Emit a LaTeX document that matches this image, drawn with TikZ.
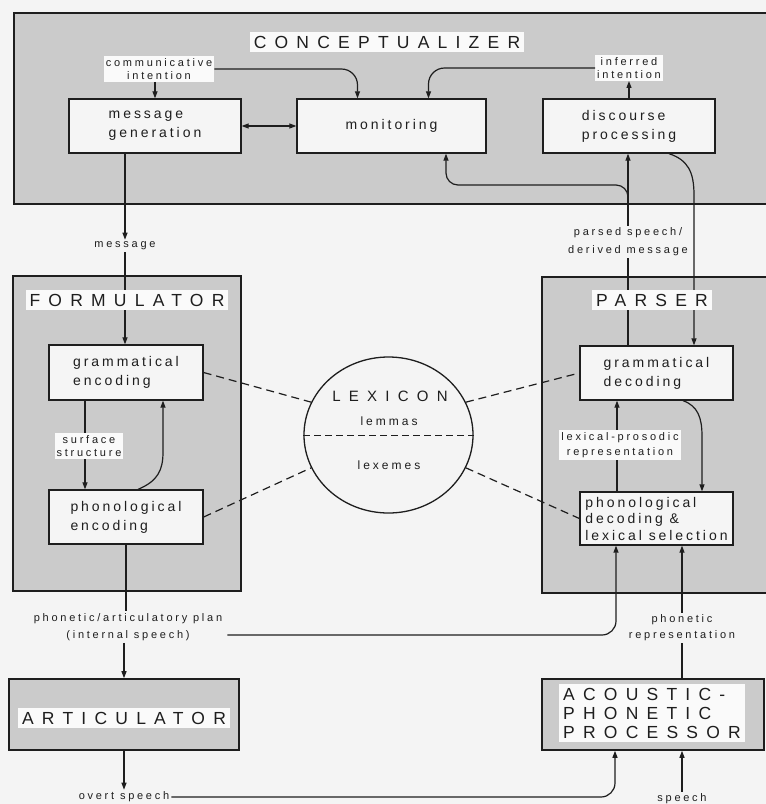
\documentclass[tikz,border=0pt]{standalone}
\usepackage{fontspec}
\setmainfont{Liberation Sans}
\newfontfamily\titlefont[LetterSpace=47]{Liberation Sans}
\newfontfamily\boxfont[LetterSpace=21]{Liberation Sans}
\newfontfamily\labelfont[LetterSpace=25]{Liberation Sans}
\newfontfamily\lexfont[LetterSpace=55]{Liberation Sans}
\usetikzlibrary{arrows.meta,calc,shapes.geometric}
\definecolor{pagebg}{HTML}{F4F4F4}
\definecolor{modfill}{HTML}{CBCBCB}
\definecolor{boxfill}{HTML}{F5F5F5}
\definecolor{titlebg}{HTML}{FAFAFA}
\definecolor{linec}{HTML}{1E1E1E}
\begin{document}
\begin{tikzpicture}[x=1pt,y=-1pt,
  >={Triangle[length=7pt,width=5pt]},
  module/.style={draw=linec, line width=1.6pt, fill=modfill},
  proc/.style={draw=linec, line width=1.3pt, fill=boxfill, inner sep=0pt,
    align=left, text=linec, font=\boxfont\fontsize{14}{19}\selectfont},
  title/.style={fill=titlebg, inner xsep=4pt, inner ysep=4pt, text=linec,
    font=\titlefont\fontsize{17.5}{19}\selectfont},
  lbl/.style={inner sep=2pt, align=center, text=linec,
    font=\labelfont\fontsize{11}{13.5}\selectfont},
  conn/.style={draw=linec, line width=1.2pt},
  lexdash/.style={draw=linec, line width=1.2pt, dash pattern=on 8pt off 5pt}
]
\useasboundingbox (0,0) rectangle (766,804);
\clip (0,0) rectangle (766,804);
\fill[pagebg] (0,0) rectangle (766,804);

% processing components (shaded frames)
\draw[module] (14,13) rectangle (800,204);
\draw[module] (13,276) rectangle (241,591);
\draw[module] (542,277) rectangle (800,593);
\node[module, minimum width=230pt, minimum height=71pt, inner sep=0pt] (artic) at (124,714.5) {};
\node[module, minimum width=222pt, minimum height=71pt, inner sep=0pt] (acoustic) at (653,714.5) {};

% conceptualizer
\node[proc, minimum width=172pt, minimum height=54pt] (msggen) at (155,126) {message\\generation};
\node[proc, minimum width=189pt, minimum height=54pt] (monitor) at (391.5,126) {monitoring};
\node[proc, minimum width=172pt, minimum height=54pt] (discourse) at (629,126) {discourse\\processing};
\node[lbl, fill=titlebg] (comm) at (159,69) {communicative\\intention};
\node[lbl, fill=titlebg] (inferred) at (629,68) {inferred\\intention};

% formulator
\node[proc, minimum width=154pt, minimum height=55pt] (gramenc) at (126,372.5) {grammatical\\encoding};
\node[proc, minimum width=154pt, minimum height=54pt] (phonenc) at (126,517) {phonological\\encoding};

% parser
\node[proc, minimum width=153pt, minimum height=54pt] (gramdec) at (656.5,373) {grammatical\\decoding};
\node[proc, minimum width=153pt, minimum height=53pt,
  font=\boxfont\fontsize{14}{16.5}\selectfont] (phondec) at (656.5,518.5)
  {phonological\\decoding \&\\lexical selection};

% lexicon
\node[draw=linec, line width=1.3pt, ellipse, fill=pagebg, minimum width=169pt,
  minimum height=156pt, inner sep=0pt] (lex) at (388.5,435) {};
\draw[draw=linec, line width=0.9pt, dash pattern=on 7pt off 4pt] (lex.west) -- (lex.east);
\node[text=linec, font=\lexfont\fontsize{15}{17}\selectfont] (lexname) at (390,396) {LEXICON};
\node[lbl, font=\labelfont\fontsize{12}{14}\selectfont] (lemmas) at (389,421) {lemmas};
\node[lbl, font=\labelfont\fontsize{12}{14}\selectfont] (lexemes) at (389,465) {lexemes};

% labels between components
\node[lbl, fill=pagebg] (msglabel) at (125,246) {message};
\node[lbl, fill=pagebg, font=\labelfont\fontsize{11}{18}\selectfont] (parsed) at (628,242) {parsed speech/\\derived message};
\node[lbl, fill=pagebg, font=\labelfont\fontsize{11}{17}\selectfont] (plan) at (128,627) {phonetic/articulatory plan\\(internal speech)};
\node[lbl, fill=pagebg, font=\labelfont\fontsize{11}{16}\selectfont] (phonrep) at (682,628) {phonetic\\representation};
\node[lbl, fill=pagebg] (overt) at (124,797) {overt speech};
\node[lbl, fill=pagebg] (speech) at (682,799) {speech};

% connectors inside the conceptualizer
\draw[conn,->] (comm.south -| msggen.north) -- (msggen.north);
\draw[conn,->,rounded corners=16] (comm.east) -- ($(comm.east -| monitor.north)+(-34,0)$) -- ($(monitor.north)+(-34,0)$);
\draw[conn,->,rounded corners=16] (inferred.west) -- ($(inferred.west -| monitor.north)+(37,0)$) -- ($(monitor.north)+(37,0)$);
\draw[conn,->] (discourse.north) -- (inferred.south);
\draw[conn,<->] (msggen.east) -- (monitor.west);

% message to the formulator
\draw[conn,->] ($(msggen.south)+(-30,0)$) -- (msglabel.north);
\draw[conn,->] (msglabel.south) -- (msglabel.south |- gramenc.north);

% formulator internals
\draw[conn,->] ($(gramenc.south)+(-41,0)$) -- ($(phonenc.north)+(-41,0)$);
\draw[conn,->] ($(phonenc.north)+(12,0)$) .. controls (158,481) and (163,470) .. (163,452) -- ($(gramenc.south)+(37,0)$);

% parser to the conceptualizer
\coordinate (fork) at (628,201);
\draw[conn] (parsed.south) -- (parsed.south |- gramdec.north);
\draw[conn,->] (parsed.north) -- (parsed.north |- discourse.south);
\draw[conn,->,rounded corners=12] (fork) -- (628,185) -- (446,185) -- ($(monitor.south)+(54.5,0)$);
\draw[conn,->] ($(discourse.south)+(40,0)$) .. controls (688,160) and (694,172) .. (694,195) -- ($(gramdec.north)+(37.5,0)$);

% parser internals
\draw[conn,->] ($(phondec.north)+(-39.5,0)$) -- ($(gramdec.south)+(-39.5,0)$);
\draw[conn,->] ($(gramdec.south)+(26.5,0)$) .. controls (698,406) and (702,418) .. (702,436) -- ($(phondec.north)+(45.5,0)$);

% lexical access
\draw[lexdash] (gramenc.east) -- (lex.157);
\draw[lexdash] (phonenc.east) -- (lex.203);
\draw[lexdash] (lex.23) -- (gramdec.west);
\draw[lexdash] (lex.-23) -- (phondec.west);

% speech output and input
\draw[conn] (phonenc.south) -- (phonenc.south |- plan.north);
\draw[conn,->] (plan.south -| artic.north) -- (artic.north);
\coordinate (planend) at ($(plan.east)+(3,8)$);
\draw[conn,->,rounded corners=14] (planend) -- ($(planend -| phondec.south)+(-40.5,0)$) -- ($(phondec.south)+(-40.5,0)$);
\draw[conn,->] (phonrep.north) -- (phonrep.north |- phondec.south);
\draw[conn] (phonrep.south) -- (phonrep.south |- acoustic.north);
\draw[conn,->] (artic.south) -- (artic.south |- overt.north);
\draw[conn,->,rounded corners=14] (overt.east) -- ($(overt.east -| acoustic.south)+(-38,0)$) -- ($(acoustic.south)+(-38,0)$);
\draw[conn,->] (speech.north) -- (speech.north |- acoustic.south);

% labels lying on connectors inside components
\node[lbl, fill=titlebg] (surf) at (89,446) {surface\\structure};
\node[lbl, fill=titlebg, font=\labelfont\fontsize{11}{15}\selectfont] (lexpros) at (620,445) {lexical-prosodic\\representation};

% component titles
\node[title] (tconc) at (387,42) {CONCEPTUALIZER};
\node[title] (tform) at (127,300) {FORMULATOR};
\node[title] (tpars) at (652,300) {PARSER};
\node[title] (tartic) at (124,718) {ARTICULATOR};
\node[title, align=left, anchor=west, font=\titlefont\fontsize{17.5}{19}\selectfont] (tacou) at (559,713) {ACOUSTIC-\\PHONETIC\\PROCESSOR};
\end{tikzpicture}
\end{document}
